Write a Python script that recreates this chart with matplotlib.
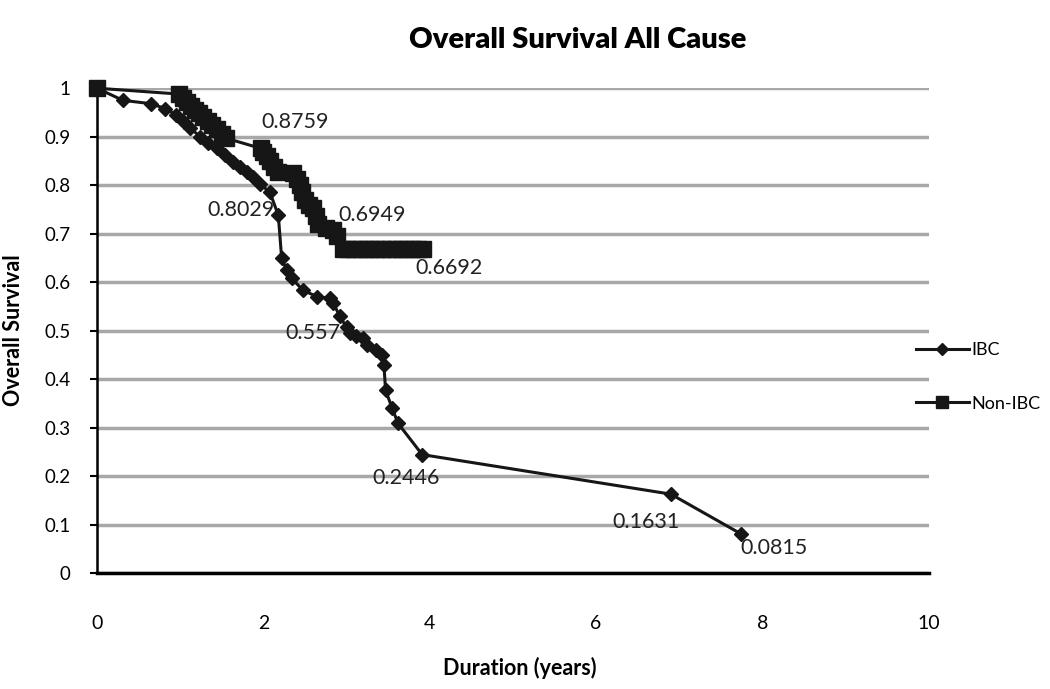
import matplotlib
matplotlib.use("Agg")
import matplotlib.pyplot as plt

plt.rcParams["font.family"] = ["Lato", "DejaVu Sans"]

# IBC (diamonds)
ibc_t = [0, 0.31, 0.65, 0.82, 0.95, 1.04, 1.12, 1.24, 1.34, 1.44, 1.54, 1.64, 1.72, 1.8, 1.88,
         1.96, 2.08, 2.18, 2.22, 2.28, 2.34, 2.48, 2.65, 2.8, 2.84, 2.92, 3.0, 3.04, 3.12, 3.2,
         3.25, 3.35, 3.43, 3.45, 3.47, 3.55, 3.62, 3.91, 6.9, 7.74]
ibc_s = [1.0, 0.975, 0.968, 0.958, 0.945, 0.93, 0.918, 0.9, 0.888, 0.876, 0.862, 0.847, 0.837, 0.827, 0.817,
         0.8029, 0.785, 0.738, 0.65, 0.625, 0.608, 0.583, 0.57, 0.567, 0.557, 0.53, 0.507, 0.495, 0.49, 0.485,
         0.47, 0.46, 0.45, 0.429, 0.377, 0.34, 0.309, 0.2446, 0.1631, 0.0815]

# Non-IBC (squares)
non_t = [0, 0.98, 1.03, 1.08, 1.13, 1.18, 1.23, 1.28, 1.33, 1.38, 1.44, 1.5, 1.55, 1.97, 2.0, 2.04, 2.08, 2.13, 2.18,
         2.36, 2.4, 2.44, 2.47, 2.5, 2.55, 2.6, 2.63, 2.66, 2.75, 2.84, 2.89, 2.96, 3.02, 3.09, 3.16, 3.23, 3.3,
         3.37, 3.44, 3.51, 3.58, 3.65, 3.72, 3.79, 3.86, 3.92]
non_s = [1.0, 0.988, 0.98, 0.972, 0.964, 0.956, 0.948, 0.94, 0.932, 0.924, 0.915, 0.905, 0.897, 0.8759, 0.868, 0.86,
         0.85, 0.838, 0.827, 0.825, 0.812, 0.8, 0.785, 0.77, 0.76, 0.752, 0.736, 0.72, 0.712, 0.707, 0.6949, 0.6692,
         0.6692, 0.6692, 0.6692, 0.6692, 0.6692, 0.6692, 0.6692, 0.6692, 0.6692, 0.6692, 0.6692, 0.6692, 0.6692,
         0.6692]

# data labels: text, x, y, horizontal alignment
label_txt = ["0.8759", "0.8029", "0.6949", "0.6692", "0.557", "0.2446", "0.1631", "0.0815"]
label_x = [1.98, 2.14, 2.9, 3.83, 2.93, 3.31, 6.2, 7.74]
label_y = [0.93, 0.748, 0.738, 0.629, 0.495, 0.196, 0.105, 0.052]
label_ha = ["left", "right", "left", "left", "right", "left", "left", "left"]

ink = "#161616"

fig = plt.figure(figsize=(10.5, 6.89), dpi=100)
ax = fig.add_axes([0.0924, 0.168, 0.792, 0.704])

ax.plot(non_t, non_s, color=ink, lw=2.2, marker="s", markersize=11, label="Non-IBC",
        clip_on=False, zorder=3)
ax.plot(ibc_t, ibc_s, color=ink, lw=2.2, marker="D", markersize=7.5, label="IBC",
        clip_on=False, zorder=4)

for txt, x, y, ha in zip(label_txt, label_x, label_y, label_ha):
    ax.text(x, y, txt, ha=ha, va="center", fontsize=15.5, color="#222222", zorder=2)

ax.set_xlim(0, 10)
ax.set_ylim(0, 1)
ax.set_xticks([0, 2, 4, 6, 8, 10])
ax.set_yticks([i / 10 for i in range(11)])
ax.set_yticklabels(["0", "0.1", "0.2", "0.3", "0.4", "0.5", "0.6", "0.7", "0.8", "0.9", "1"])
ax.tick_params(axis="x", length=0, pad=30, labelsize=14)
ax.tick_params(axis="y", length=5, width=1.5, pad=14, labelsize=13.5)
ax.yaxis.grid(True, color="#a8a8a8", lw=2.5)
ax.set_axisbelow(True)
for side in ["top", "right"]:
    ax.spines[side].set_visible(False)
ax.spines["left"].set_linewidth(1.8)
ax.spines["bottom"].set_linewidth(2.5)

handles, labels = ax.get_legend_handles_labels()
leg = ax.legend(handles[::-1], labels[::-1], loc="center left", bbox_to_anchor=(0.985, 0.405),
                frameon=False, fontsize=13, handlelength=2.9, handletextpad=0.15, labelspacing=2.1,
                borderaxespad=0, borderpad=0, markerscale=0.85)

fig.text(0.55, 0.942, "Overall Survival All Cause", ha="center", va="center",
         fontsize=21, fontweight="heavy")
fig.text(0.495, 0.03, "Duration (years)", ha="center", va="center", fontsize=15.5,
         fontweight="bold")
fig.text(0.013, 0.521, "Overall Survival", ha="center", va="center", rotation=90,
         fontsize=15.5, fontweight="bold")

fig.savefig("out.png", dpi=100, facecolor="white")
